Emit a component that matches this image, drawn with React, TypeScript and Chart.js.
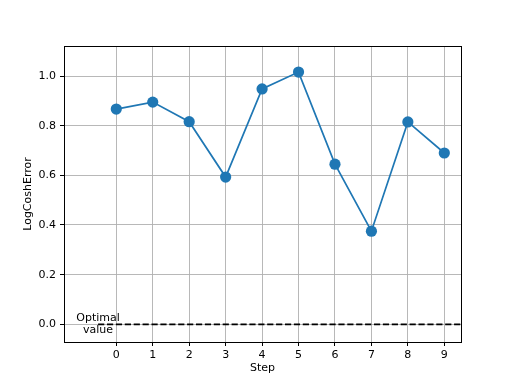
import React, { useEffect, useRef } from "react";
import { Chart, registerables } from "chart.js";

Chart.register(...registerables);

const steps = [0, 1, 2, 3, 4, 5, 6, 7, 8, 9];
const logCoshError = [0.867, 0.895, 0.816, 0.593, 0.948, 1.016, 0.645, 0.375, 0.815, 0.69];
const optimalValue = 0;
const optimalRange = [-0.5, 9.5];
const optimalLabel = ["Optimal", "value"];
const yTicks = [0, 0.2, 0.4, 0.6, 0.8, 1.0];
const xLimits = [-1.435, 9.458];
const yLimits = [-0.0713, 1.121];

const FONT = "'DejaVu Sans', sans-serif";

export default function App() {
  const ref = useRef<HTMLCanvasElement | null>(null);
  useEffect(() => {
    document.body.style.margin = "0";
    const canvas = ref.current!;
    const framePlugin = {
      id: "frame",
      afterDraw(chart: any) {
        const { ctx, chartArea: a, scales } = chart;
        ctx.save();
        // label
        ctx.fillStyle = "#000";
        ctx.font = `11px ${FONT}`;
        ctx.textAlign = "center";
        ctx.textBaseline = "middle";
        const cx = scales.x.getPixelForValue(optimalRange[0]);
        const cy = scales.y.getPixelForValue(optimalValue);
        const lh = 12.4;
        optimalLabel.forEach((t, i) => {
          ctx.fillText(t, cx, cy + (i - (optimalLabel.length - 1) / 2) * lh);
        });
        ctx.strokeStyle = "#000";
        ctx.lineWidth = 1;
        ctx.strokeRect(Math.round(a.left) + 0.5, Math.round(a.top) + 0.5, Math.round(a.right - a.left), Math.round(a.bottom - a.top));
        ctx.restore();
      },
    };
    const chart = new Chart(canvas, {
      type: "line",
      data: {
        datasets: [
          {
            data: steps.map((s, i) => ({ x: s, y: logCoshError[i] })),
            borderColor: "#1f77b4",
            backgroundColor: "#1f77b4",
            borderWidth: 1.7,
            pointRadius: 5.6,
            pointBorderWidth: 0,
            pointHoverRadius: 5.6,
            tension: 0,
            order: 1,
          },
          {
            data: optimalRange.map((x) => ({ x, y: optimalValue })),
            borderColor: "#000",
            borderWidth: 1.7,
            borderDash: [6.2, 2.7],
            pointRadius: 0,
            order: 2,
          },
        ],
      },
      options: {
        animation: false,
        responsive: false,
        devicePixelRatio: 1,
        layout: { padding: { left: 0, top: 46, right: 51, bottom: 0 } },
        plugins: { legend: { display: false }, tooltip: { enabled: false } },
        scales: {
          x: {
            type: "linear",
            min: xLimits[0],
            max: xLimits[1],
            afterBuildTicks: (s: any) => {
              s.ticks = steps.map((v) => ({ value: v }));
            },
            afterFit: (s: any) => {
              s.height = 42;
            },
            ticks: {
              font: { family: FONT, size: 11 },
              color: "#000",
              padding: 3,
              maxRotation: 0,
              callback: (v: any) => String(v),
            },
            grid: { color: "#b0b0b0", lineWidth: 0.9, drawTicks: true, tickLength: 4, tickColor: "#000", tickWidth: 1 },
            border: { display: true, color: "#000", width: 1 },
            title: {
              display: true,
              text: "Step",
              font: { family: FONT, size: 11 },
              color: "#000",
              padding: { top: 0, bottom: 9.4 },
            },
          },
          y: {
            type: "linear",
            min: yLimits[0],
            max: yLimits[1],
            afterBuildTicks: (s: any) => {
              s.ticks = yTicks.map((v) => ({ value: v }));
            },
            afterFit: (s: any) => {
              s.width = 64;
            },
            ticks: {
              font: { family: FONT, size: 11 },
              color: "#000",
              padding: 4,
              callback: (v: any) => Number(v).toFixed(1),
            },
            grid: { color: "#b0b0b0", lineWidth: 0.9, drawTicks: true, tickLength: 4, tickColor: "#000", tickWidth: 1 },
            border: { display: true, color: "#000", width: 1 },
            title: {
              display: true,
              text: "LogCoshError",
              font: { family: FONT, size: 11 },
              color: "#000",
              padding: { top: 22, bottom: 0 },
            },
          },
        },
      },
      plugins: [framePlugin],
    });
    return () => chart.destroy();
  }, []);
  return <canvas ref={ref} width={512} height={384} style={{ display: "block" }} />;
}
